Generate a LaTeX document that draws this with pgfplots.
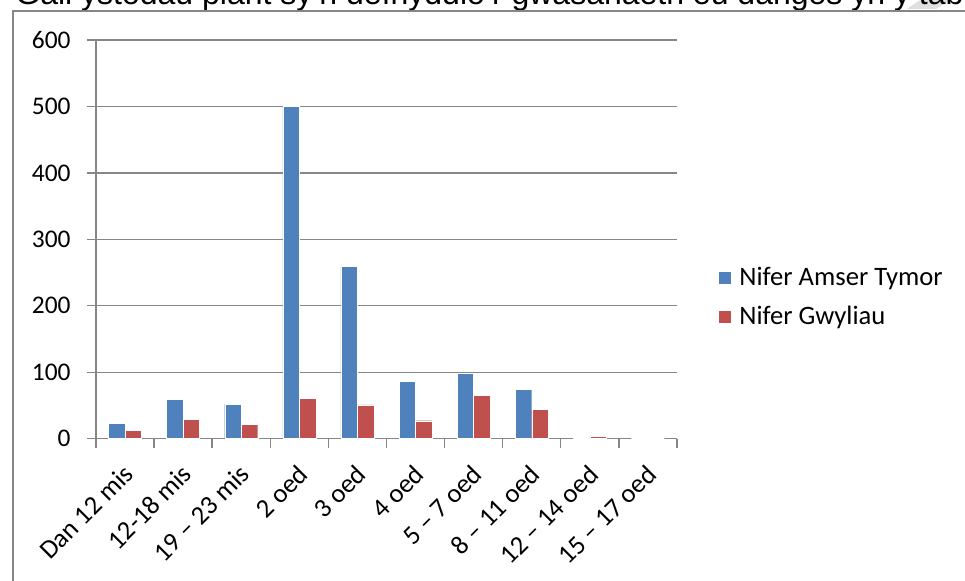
\documentclass[border=0pt]{standalone}
\usepackage{pgfplots}
\pgfplotsset{compat=1.18}
\usepackage{fontspec}
\setmainfont{Carlito}
\newfontfamily\arialfont{Liberation Sans}
\definecolor{xlblue}{HTML}{4F81BD}
\definecolor{xlred}{HTML}{C0504D}
\definecolor{xlgrid}{HTML}{868686}

\pgfplotstableread{
x  tymor gwyliau
0  23  13
1  59  29
2  52  22
3  500 61
4  259 51
5  86  27
6  98  65
7  74  44
8  2   3
9  0   0
}\datatable

\begin{document}
\begin{tikzpicture}
% page = 965 x 581 px, 1px = 0.5pt
\useasboundingbox (0,0) rectangle (482.5pt,290.5pt);
\begin{scope}
\clip (0,0) rectangle (482.5pt,290.5pt);
\fill[gray!25] (453.5pt,286pt) -- (460pt,290.5pt) -- (475pt,290.5pt) -- (468pt,286pt) -- cycle;
\node[anchor=base west, inner sep=0pt, font=\arialfont\fontsize{16}{19}\selectfont]
  at (7.5pt,288pt) {Gall ystodau plant sy’n defnyddio’r gwasanaeth eu dangos yn y tabl};
\draw[xlgrid, line width=0.7pt] (6.5pt,-2pt) -- (6.5pt,285pt) -- (490pt,285pt);
\end{scope}
\begin{axis}[
    at={(48pt,71.15pt)},
    anchor=south west,
    scale only axis,
    width=290.5pt,
    height=199.35pt,
    ybar=0pt,
    bar width=8.25pt,
    xmin=-0.5, xmax=9.5,
    ymin=0, ymax=600,
    axis x line*=bottom,
    axis y line*=left,
    axis line style={xlgrid, line width=0.7pt},
    every tick/.style={xlgrid, line width=0.7pt},
    tick align=outside,
    major tick length=4.5pt,
    /pgf/number format/assume math mode=true,
    ytick={0,100,...,600},
    ymajorgrids,
    grid style={xlgrid, line width=0.7pt},
    xtick={-0.5,0.5,...,9.5},
    xticklabels={},
    extra x ticks={0,...,9},
    extra x tick labels={Dan 12 mis,12-18 mis,19 – 23 mis,2 oed,3 oed,4 oed,5 – 7 oed,8 – 11 oed,12 – 14 oed,15 – 17 oed},
    extra x tick style={major tick length=0pt, grid=none,
        tick label style={font=\fontsize{13.3}{15}\selectfont, xshift=-1.5pt, yshift=-12pt, rotate=45, anchor=north east, inner sep=0pt}},
    yticklabel style={font=\fontsize{12.7}{14}\selectfont, inner sep=0pt, xshift=-8pt},
    legend style={draw=none, fill=none, at={(rel axis cs:1.070,0.355)}, anchor=west,
        font=\fontsize{13.3}{15}\selectfont, inner sep=0pt, row sep=9pt,
        nodes={inner xsep=4pt, inner ysep=0pt},
        legend cell align=left},
    every axis plot post/.append style={legend image code/.code={\fill[##1] (0pt,-3.25pt) rectangle (6.5pt,3.25pt);}},
    clip=false,
]
\addplot[fill=xlblue, draw=white, line width=0.2pt] table[x=x, y=tymor] {\datatable};
\addplot[fill=xlred, draw=white, line width=0.2pt] table[x=x, y=gwyliau] {\datatable};
\legend{Nifer Amser Tymor, Nifer Gwyliau}
\end{axis}
\end{tikzpicture}
\end{document}
